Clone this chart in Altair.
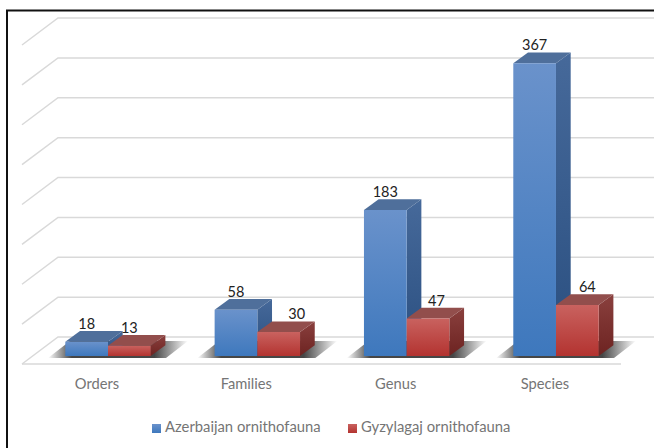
import altair as alt
import pandas as pd

# Chart values
categories = ["Orders", "Families", "Genus", "Species"]
azerbaijan = [18, 58, 183, 367]
gyzylagaj = [13, 30, 47, 64]
grid_values = [0, 50, 100, 150, 200, 250, 300, 350, 400]
series_names = ["Azerbaijan ornithofauna", "Gyzylagaj ornithofauna"]

# Layout, in scale units: one x unit is a category step, one y unit is a count
W, H = 654, 448
PX_X, PX_Y = 149.33, 0.7975
X_DOMAIN = [-108 / PX_X, (W - 108) / PX_X]
Y_DOMAIN = [(356 - H) / PX_Y, 356 / PX_Y]
BAR_W = 42.7 / PX_X
DEPTH_X = 14.7 / PX_X
DEPTH_Y = 10.7 / PX_Y
BACK_Y = 19 / PX_Y
FRONT_Y = -8 / PX_Y
LABEL_DX = [[0, 0, 0, 0], [0, 18, 8.5, 10]]

xs = alt.Scale(domain=X_DOMAIN, range=[0, W], nice=False, zero=False)
ys = alt.Scale(domain=Y_DOMAIN, range=[H, 0], nice=False, zero=False)
X = alt.X("x:Q", scale=xs, axis=None)
X2 = alt.X2("x2:Q")
Y = alt.Y("y:Q", scale=ys, axis=None)
Y2 = alt.Y2("y2:Q")


def vertical(top, bottom):
    return alt.Gradient(gradient="linear", x1=0, y1=0, x2=0, y2=1,
                        stops=[alt.GradientStop(color=top, offset=0),
                               alt.GradientStop(color=bottom, offset=1)])


# Back wall and floor lines
grid_rows = []
for v in grid_values:
    left = (22 - 108) / PX_X
    back = (58 - 108) / PX_X
    y_back = v + BACK_Y
    grid_rows += [
        {"k": v, "o": 0, "x": left, "y": y_back - 27 / PX_Y},
        {"k": v, "o": 1, "x": back, "y": y_back},
        {"k": v, "o": 2, "x": X_DOMAIN[1], "y": y_back},
    ]
grid_rows += [
    {"k": -1, "o": 0, "x": (22 - 108) / PX_X, "y": FRONT_Y},
    {"k": -1, "o": 1, "x": (621 - 108) / PX_X, "y": FRONT_Y},
]
grid = alt.Chart(pd.DataFrame(grid_rows)).mark_line(
    color="#d9d9d9", strokeWidth=1.5
).encode(x=X, y=Y, detail="k:N", order="o:Q")

# Floor shadow beneath each pair of columns, fading out sideways
shadow_rows = []
for i in range(len(categories)):
    shadow_rows += [
        {"k": i, "y": -2 / PX_Y, "x": i - 60 / PX_X, "x2": i + 58 / PX_X},
        {"k": i, "y": 15 / PX_Y, "x": i - 38 / PX_X, "x2": i + 80 / PX_X},
    ]
shadow_fill = alt.Gradient(
    gradient="linear", x1=0, y1=0, x2=1, y2=0,
    stops=[
        alt.GradientStop(color="rgba(50,50,50,0)", offset=0),
        alt.GradientStop(color="rgba(50,50,50,0.9)", offset=0.17),
        alt.GradientStop(color="rgba(50,50,50,0.9)", offset=0.76),
        alt.GradientStop(color="rgba(50,50,50,0)", offset=1),
    ],
)
shadow = alt.Chart(pd.DataFrame(shadow_rows)).mark_area(
    orient="horizontal", color=shadow_fill
).encode(y=Y, x=X, x2=X2, detail="k:N")


def column_layers(values, start, front_cols, side_cols, top_col):
    """Front, side and top faces of one series of 3D columns."""
    fronts, sides, tops = [], [], []
    for i, v in enumerate(values):
        x0 = i + start
        x1 = x0 + BAR_W
        fronts.append({"x": x0, "x2": x1, "y": v, "y2": 0})
        sides += [
            {"k": i, "x": x1, "y": v, "y2": 0},
            {"k": i, "x": x1 + DEPTH_X, "y": v + DEPTH_Y, "y2": DEPTH_Y},
        ]
        tops += [
            {"k": i, "y": v, "x": x0, "x2": x1},
            {"k": i, "y": v + DEPTH_Y, "x": x0 + DEPTH_X, "x2": x1 + DEPTH_X},
        ]
    side = alt.Chart(pd.DataFrame(sides)).mark_area(
        color=vertical(*side_cols)
    ).encode(x=X, y=Y, y2=Y2, detail="k:N")
    top = alt.Chart(pd.DataFrame(tops)).mark_area(
        orient="horizontal", color=top_col
    ).encode(y=Y, x=X, x2=X2, detail="k:N")
    front = alt.Chart(pd.DataFrame(fronts)).mark_rect(
        color=vertical(*front_cols)
    ).encode(x=X, x2=X2, y=Y, y2=Y2)
    return side + top + front


BLUE_FRONT = ("#6a92cb", "#3e78bd")
RED_FRONT = ("#c9625f", "#b33330")
blue = column_layers(azerbaijan, -BAR_W, BLUE_FRONT, ("#46699a", "#2a4f80"), "#4f6f9b")
red = column_layers(gyzylagaj, 0, RED_FRONT, ("#8a403e", "#6d2321"), "#924e4c")

# Value labels above the columns
label_rows = []
for s, (values, start) in enumerate([(azerbaijan, -BAR_W), (gyzylagaj, 0)]):
    for i, v in enumerate(values):
        label_rows.append({"x": i + start + BAR_W / 2 + LABEL_DX[s][i] / PX_X,
                           "y": v + 17 / PX_Y, "t": str(v)})
labels = alt.Chart(pd.DataFrame(label_rows)).mark_text(
    font="Lato", fontSize=14.5, color="#222222", baseline="middle", align="center"
).encode(x=X, y=Y, text="t:N")

# Category names under the floor
cat_rows = [{"x": i - 11 / PX_X, "t": c} for i, c in enumerate(categories)]
cat_labels = alt.Chart(pd.DataFrame(cat_rows)).mark_text(
    font="Lato", fontSize=14.7, color="#757575", baseline="middle", align="center"
).encode(x=X, y=alt.value(385), text="t:N")

# Legend swatches and names
empty = pd.DataFrame({"a": [0]})


def legend_entry(name, left, fill):
    swatch = alt.Chart(empty).mark_rect(color=vertical(*fill)).encode(
        x=alt.value(left), x2=alt.value(left + 9),
        y=alt.value(424), y2=alt.value(433))
    text = alt.Chart(pd.DataFrame({"t": [name]})).mark_text(
        font="Lato", fontSize=14.8, color="#757575", align="left", baseline="middle"
    ).encode(x=alt.value(left + 13), y=alt.value(428), text="t:N")
    return swatch + text


legend = legend_entry(series_names[0], 152, BLUE_FRONT) + legend_entry(series_names[1], 348, RED_FRONT)

# Outer frame: only the top and left edges fall inside the page
frame_top = alt.Chart(empty).mark_rule(color="#111111", strokeWidth=2).encode(
    x=alt.value(6), x2=alt.value(W), y=alt.value(10.5))
frame_left = alt.Chart(empty).mark_rule(color="#111111", strokeWidth=2).encode(
    x=alt.value(7), y=alt.value(10), y2=alt.value(H))

chart = alt.layer(
    grid, shadow, blue, red, labels, cat_labels, legend, frame_top, frame_left
).properties(
    width=W, height=H, padding=0, autosize=alt.AutoSizeParams(type="none"),
    background="white",
).configure_view(stroke=None)

chart.save("out.html", embed_options={"renderer": "svg", "actions": False})
